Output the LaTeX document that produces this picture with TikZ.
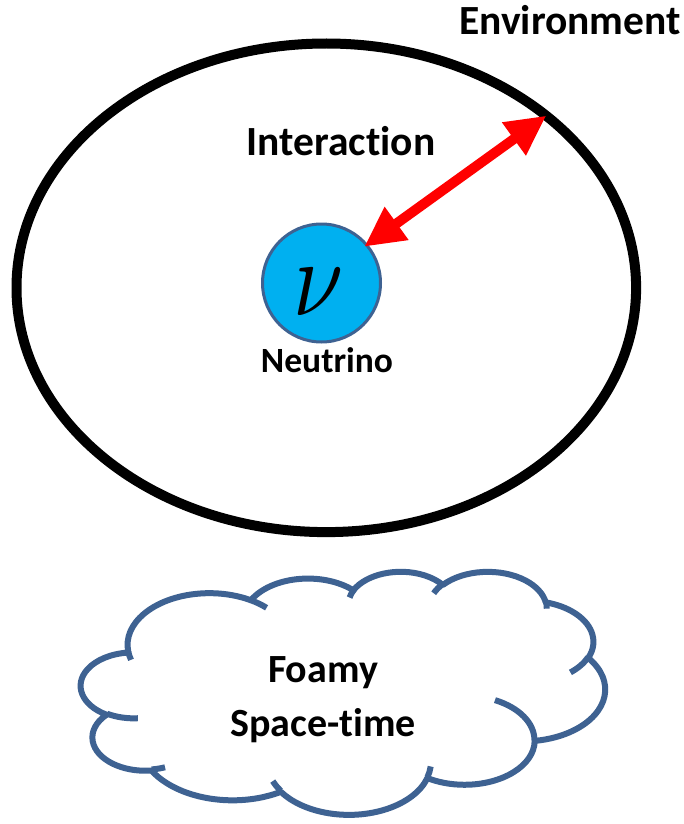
\documentclass[tikz,border=0pt]{standalone}
\usepackage{fontspec}
\setmainfont{Carlito}[Ligatures=NoCommon]
\usepackage{graphicx}
\usetikzlibrary{shapes.geometric,arrows.meta}
\definecolor{cloudblue}{RGB}{62,98,146}
\definecolor{nufill}{RGB}{0,176,240}
\definecolor{arrred}{RGB}{255,0,0}
% arc of the office cloud: name, wR, hR, start angle, sweep (visual angles, degrees)
\newcommand\mkcloudarc[5]{%
  \pgfmathsetmacro\tmpa{#4}%
  \pgfmathsetmacro\tmpb{#4+#5}%
  \pgfmathsetmacro\tmps{atan2(#2*sin(\tmpa),#3*cos(\tmpa))}%
  \pgfmathsetmacro\tmpe{atan2(#2*sin(\tmpb),#3*cos(\tmpb))}%
  \pgfmathsetmacro\tmpe{\tmpe+360*round((\tmps+#5-\tmpe)/360)}%
  \edef\tmpdo{\noexpand\tikzset{#1/.style={x radius=#2, y radius=#3, start angle=\tmps, end angle=\tmpe}}}%
  \tmpdo}
\mkcloudarc{cA}{675.3}{919.0}{-190.48748}{123.78053}
\mkcloudarc{cB}{533.3}{726.7}{-144.10238}{89.94523}
\mkcloudarc{cC}{436.5}{594.5}{-145.80792}{99.72302}
\mkcloudarc{cD}{485.7}{659.5}{-130.98607}{117.24173}
\mkcloudarc{cE}{533.3}{727.3}{-78.70888}{109.02692}
\mkcloudarc{cF}{677.5}{922.0}{-46.26725}{130.269}
\mkcloudarc{cG}{578.5}{786.7}{0.62502}{114.03333}
\mkcloudarc{cH}{675.2}{921.5}{22.4516}{115.17255}
\mkcloudarc{cI}{772.0}{1054.3}{66.24263}{75.71102}
\mkcloudarc{cJ}{436.0}{591.8}{-274.94208}{146.73557}
\mkcloudarc{cK}{434.5}{594.5}{-246.8285}{152.51885}
\mkcloudarc{tA}{434.5}{594.5}{86.742}{26.4295}
\mkcloudarc{tB}{436.0}{591.8}{73.61047}{11.44747}
\mkcloudarc{tC}{675.2}{921.5}{137.62415}{14.0811}
\mkcloudarc{tD}{675.2}{921.5}{6.45327}{15.99835}
\mkcloudarc{tE}{578.5}{786.7}{-70.29235}{70.91737}
\mkcloudarc{tF}{533.3}{727.3}{30.31803}{27.7515}
\mkcloudarc{tG}{485.7}{659.5}{-13.74433}{14.8589}
\mkcloudarc{tH}{485.7}{659.5}{-149.18145}{18.19537}
\mkcloudarc{tI}{436.5}{594.5}{-163.49427}{17.68635}
\mkcloudarc{tJ}{675.3}{919.0}{-66.70695}{12.31935}
\mkcloudarc{tK}{675.3}{919.0}{157.65435}{11.85817}
\begin{document}
\begin{tikzpicture}[x=1pt,y=-1pt,
  lbl/.style={font=\bfseries\fontsize{40}{48}\selectfont, inner sep=0pt, text=black},
  biglbl/.style={lbl, font=\bfseries\fontsize{41.5}{48}\selectfont},
  cloudline/.style={draw=cloudblue, line width=6pt, line join=round},
  dblred/.style={draw=arrred, line width=10pt,
    arrows={Triangle[width=38pt,length=40pt]-Triangle[width=38pt,length=40pt]}}]
\useasboundingbox[fill=white] (0,0) rectangle (684,824);
% environment ring
\node[ellipse, draw=black, line width=10pt, minimum width=619.6pt,
      minimum height=488.6pt, inner sep=0pt] (envring) at (326.3,287.8) {};
\node[biglbl, anchor=base west] (envlbl) at (459,35) {Environment};
\node[biglbl, anchor=base] (intlbl) at (341,155) {Interaction};
% neutrino
\node[circle, draw=cloudblue, line width=3pt, fill=nufill, minimum size=118pt,
      inner sep=0pt] (nu) at (321.5,283) {};
\node[inner sep=0pt, anchor=base] (nusym) at (318.5,315)
  {\scalebox{9}[10.9]{$\nu$}};
\node[lbl, font=\bfseries\fontsize{35.5}{40}\selectfont, anchor=base] (nulbl) at (327,372) {Neutrino};
% interaction arrow
\draw[dblred, shorten <=-4.5pt, shorten >=5pt] (nu.40) -- (envring.38);
% cloud
\begin{scope}[shift={(81,571)}, x=0.121296pt, y=-0.05625pt]
\draw[cloudline] (390,1437) arc[cA] arc[cB] arc[cC] arc[cD] arc[cE] arc[cF]
  arc[cG] arc[cH] arc[cI] arc[cJ] arc[cK] -- cycle;
\draw[cloudline] (469.3,2617.7) arc[tA] (692.8,3489.9) arc[tB]
  (1647.8,3909.0) arc[tC] (2882.7,3475.1) arc[tD] (3412.9,2295.4) arc[tE]
  (4179.8,1535.4) arc[tF] (3832.4,542.6) arc[tG] (2907.8,395.2) arc[tH]
  (2214.1,472.0) arc[tI] (1400.0,519.2) arc[tJ] (412.7,1578.9) arc[tK];
\end{scope}
\node[lbl, anchor=base] (foam1) at (323,682) {Foamy};
\node[lbl, anchor=base] (foam2) at (323,736) {Space-time};
\end{tikzpicture}
\end{document}
